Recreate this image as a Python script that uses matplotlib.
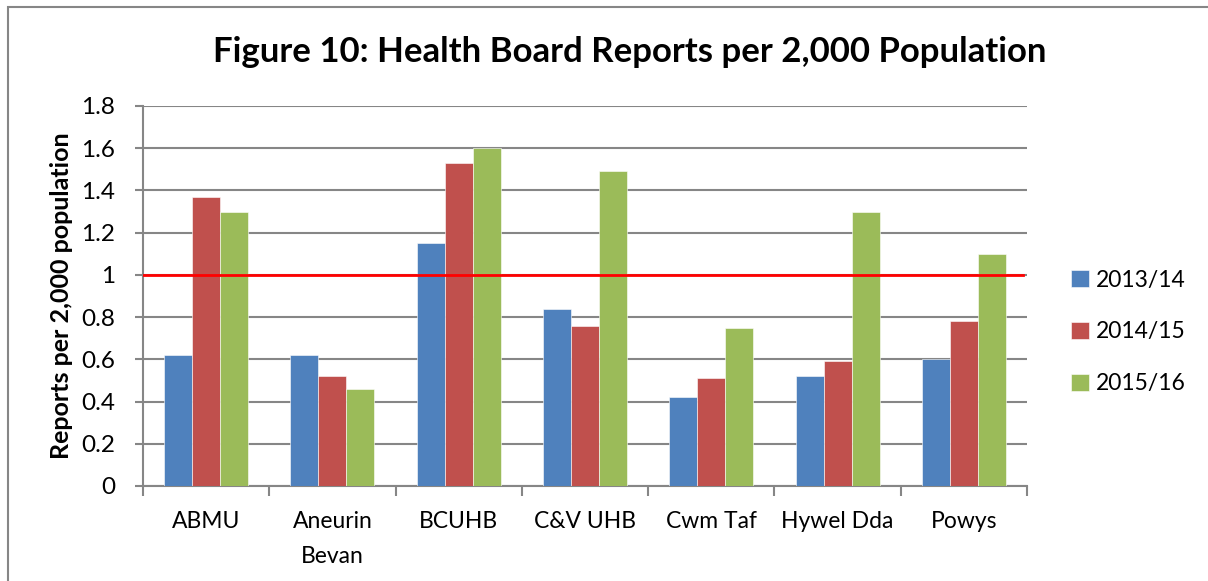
import matplotlib
matplotlib.use("Agg")
import matplotlib.pyplot as plt
import numpy as np
from matplotlib.patches import Rectangle

plt.rcParams['font.family'] = ['Lato', 'DejaVu Sans']

categories = ["ABMU", "Aneurin\nBevan", "BCUHB", "C&V UHB", "Cwm Taf", "Hywel Dda", "Powys"]
series_names = ["2013/14", "2014/15", "2015/16"]
v2013 = [0.62, 0.62, 1.15, 0.84, 0.42, 0.52, 0.60]
v2014 = [1.37, 0.52, 1.53, 0.76, 0.51, 0.59, 0.78]
v2015 = [1.30, 0.46, 1.60, 1.49, 0.75, 1.30, 1.10]
colors = ["#4F81BD", "#C0504D", "#9BBB59"]
threshold = 1.0
yticks = [0, 0.2, 0.4, 0.6, 0.8, 1, 1.2, 1.4, 1.6, 1.8]
ytick_labels = ["0", "0.2", "0.4", "0.6", "0.8", "1", "1.2", "1.4", "1.6", "1.8"]

fig = plt.figure(figsize=(12.08, 5.81), dpi=100)
ax = fig.add_axes([143/1208, 1-486/581, (1027-143)/1208, (486-106)/581])

# figure border
fig.patches.append(Rectangle((8/1208, -0.1), 1.2, 1-7/581+0.1, transform=fig.transFigure,
                             fill=False, edgecolor="#868686", linewidth=1.5))

x = np.arange(len(categories))
w = 0.222
for i, (vals, name) in enumerate(zip([v2013, v2014, v2015], series_names)):
    ax.bar(x + (i-1)*w, vals, width=w, color=colors[i], label=name, zorder=3,
           edgecolor="white", linewidth=0.4)

ax.set_xlim(-0.5, len(categories)-0.5)
ax.set_ylim(0, 1.8)
ax.set_yticks(yticks)
ax.set_yticklabels(ytick_labels, fontsize=17.5)
ax.set_xticks(x)
ax.set_xticklabels(categories, fontsize=16.5, linespacing=1.85)
ax.tick_params(axis='x', length=0, pad=18)
ax.set_xticks(np.arange(-0.5, len(categories), 1), minor=True)
ax.tick_params(axis='x', which='minor', length=7, width=1.5, color="#868686", direction='out')
ax.tick_params(axis='y', length=6, width=1.5, color="#868686", direction='out', pad=14)

ax.grid(axis='y', color="#868686", linewidth=1.5, zorder=0)
ax.set_axisbelow(True)
for s in ['top', 'right']:
    ax.spines[s].set_visible(False)
for s in ['left', 'bottom']:
    ax.spines[s].set_color("#868686")
    ax.spines[s].set_linewidth(1.5)

ax.axhline(threshold, color="#FF0000", linewidth=2, zorder=4, xmax=0.995)

ax.set_ylabel("Reports per 2,000 population", fontsize=18, fontweight='bold', labelpad=6)
fig.text(630/1208, 1-52/581, "Figure 10: Health Board Reports per 2,000 Population",
         fontsize=25, fontweight='bold', ha='center', va='center')

ax.legend(loc='center left', bbox_to_anchor=(1050/1208, 1-332/581), bbox_transform=fig.transFigure,
          frameon=False, fontsize=16.5, handlelength=0.8, handleheight=0.8, handletextpad=0.3,
          labelspacing=1.35)

fig.savefig("out.png", dpi=100)
